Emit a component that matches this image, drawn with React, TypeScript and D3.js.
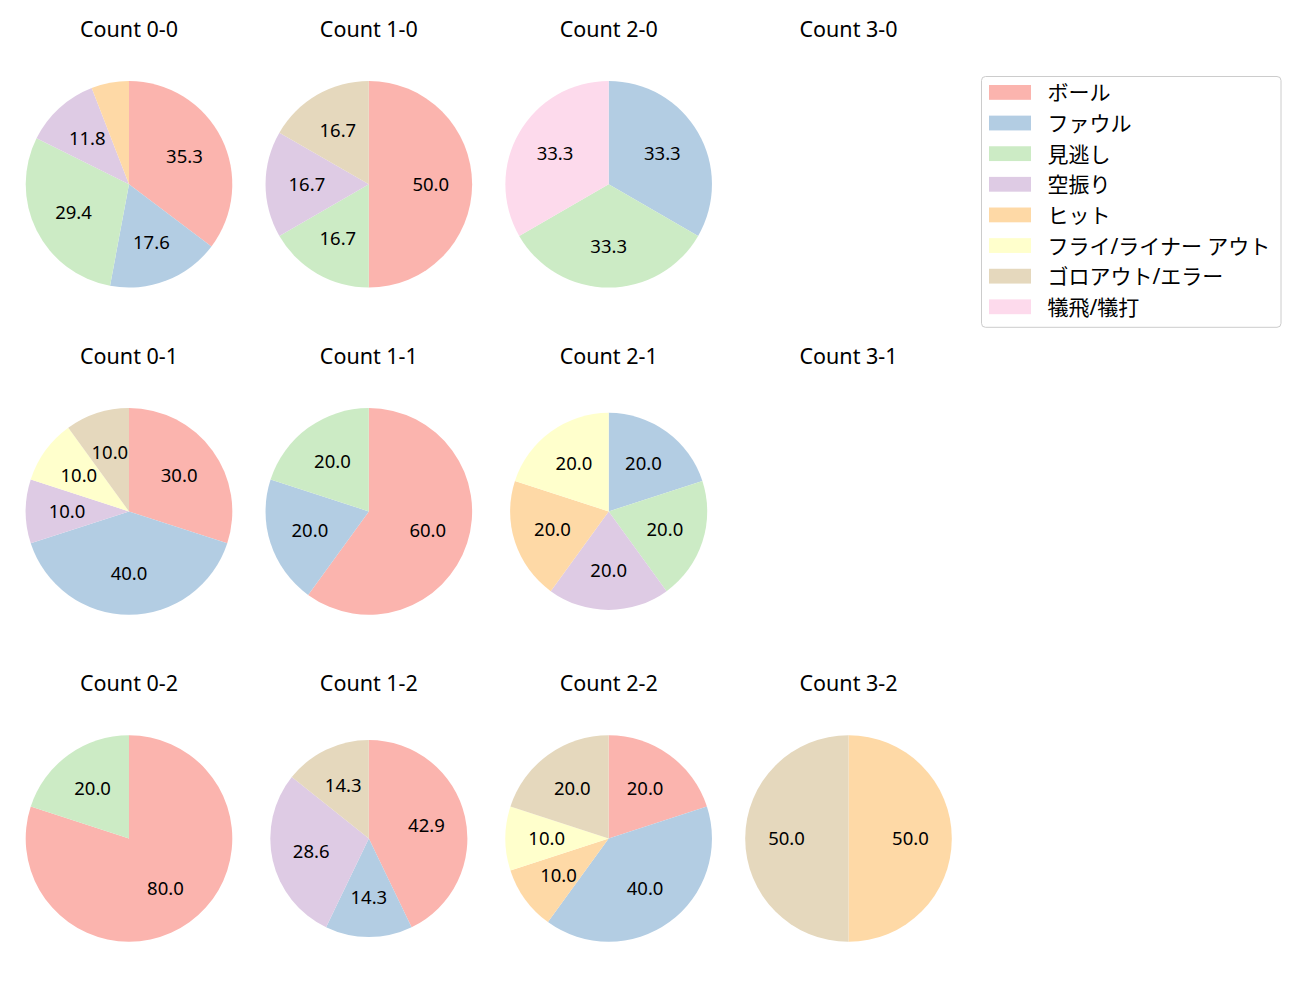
import * as d3 from 'd3';
import React, { useRef, useEffect } from 'react';

const categories = [
  'ボール',
  'ファウル',
  '見逃し',
  '空振り',
  'ヒット',
  'フライ/ライナー アウト',
  'ゴロアウト/エラー',
  '犠飛/犠打',
];

// pitches per result, same order as categories
const count00 = [6, 3, 5, 2, 1, 0, 0, 0];
const count10 = [3, 0, 1, 1, 0, 0, 1, 0];
const count20 = [0, 1, 1, 0, 0, 0, 0, 1];
const count30 = [0, 0, 0, 0, 0, 0, 0, 0];
const count01 = [3, 4, 0, 1, 0, 1, 1, 0];
const count11 = [3, 1, 1, 0, 0, 0, 0, 0];
const count21 = [0, 1, 1, 1, 1, 1, 0, 0];
const count31 = [0, 0, 0, 0, 0, 0, 0, 0];
const count02 = [4, 0, 1, 0, 0, 0, 0, 0];
const count12 = [3, 1, 0, 2, 0, 0, 1, 0];
const count22 = [2, 4, 0, 0, 1, 1, 2, 0];
const count32 = [0, 0, 0, 0, 1, 0, 1, 0];

const countLabels = ['0-0', '1-0', '2-0', '3-0', '0-1', '1-1', '2-1', '3-1', '0-2', '1-2', '2-2', '3-2'];
const countValues = [count00, count10, count20, count30, count01, count11, count21, count31, count02, count12, count22, count32];

// a couple of pies come out slightly smaller in the original
const radiusScale: Record<string, number> = { '2-1': 0.954, '1-2': 0.954 };

const font = '"Noto Sans", "Noto Sans CJK JP", sans-serif';

function PieGrid() {
  const svgRef = useRef<SVGSVGElement>(null);
  const width = 1300;
  const height = 1000;

  useEffect(() => {
    const svg = d3.select(svgRef.current);
    svg.selectAll('*').remove();

    const color = d3.scaleOrdinal<number, string>()
      .domain(d3.range(categories.length))
      .range(d3.schemePastel1);

    const colX = d3.scaleLinear().domain([0, 3]).range([129, 848.5]);
    const rowY = d3.scaleLinear().domain([0, 2]).range([184.3, 838.5]);
    const baseR = 103.3;

    const pie = d3.pie<number>().sort(null).value((d) => d);

    countLabels.forEach((label, i) => {
      const col = i % 4;
      const row = Math.floor(i / 4);
      const cx = colX(col);
      const cy = rowY(row);
      const g = svg.append('g').attr('transform', `translate(${cx},${cy})`);

      svg
        .append('text')
        .attr('x', cx)
        .attr('y', cy - 147.6)
        .attr('text-anchor', 'middle')
        .attr('font-family', font)
        .attr('font-size', 21.5)
        .attr('fill', '#000')
        .text(`Count ${label}`);

      const values = countValues[i];
      const total = d3.sum(values);
      if (total === 0) return;

      const r = baseR * (radiusScale[label] ?? 1);
      const arc = d3.arc<d3.PieArcDatum<number>>().innerRadius(0).outerRadius(r);
      const labelArc = d3.arc<d3.PieArcDatum<number>>().innerRadius(r * 0.6).outerRadius(r * 0.6);
      const arcs = pie(values).filter((d) => d.value > 0);

      g.selectAll('path')
        .data(arcs)
        .join('path')
        .attr('d', arc)
        .attr('fill', (d) => color(d.index));

      g.selectAll('text')
        .data(arcs.filter((d) => (d.value / total) * 100 >= 7))
        .join('text')
        .attr('x', (d) => labelArc.centroid(d)[0])
        .attr('y', (d) => labelArc.centroid(d)[1])
        .attr('dy', '0.36em')
        .attr('text-anchor', 'middle')
        .attr('font-family', font)
        .attr('font-size', 18.5)
        .attr('fill', '#000')
        .text((d) => ((d.value / total) * 100).toFixed(1));
    });

    // legend
    const legend = svg.append('g');
    legend
      .append('rect')
      .attr('x', 981.5)
      .attr('y', 76.5)
      .attr('width', 299.5)
      .attr('height', 250.8)
      .attr('rx', 4)
      .attr('fill', '#fff')
      .attr('fill-opacity', 0.8)
      .attr('stroke', '#cccccc')
      .attr('stroke-width', 1);

    const legendY = d3.scaleLinear().domain([0, categories.length - 1]).range([92.4, 306.8]);
    categories.forEach((cat, i) => {
      legend
        .append('rect')
        .attr('x', 989)
        .attr('y', legendY(i) - 7.4)
        .attr('width', 42)
        .attr('height', 14.8)
        .attr('fill', color(i));
      legend
        .append('text')
        .attr('x', 1047.5)
        .attr('y', legendY(i))
        .attr('dominant-baseline', 'central')
        .attr('font-family', font)
        .attr('font-size', 21)
        .attr('fill', '#000')
        .text(cat);
    });
  }, []);

  return <svg width={width} height={height} ref={svgRef} style={{ display: 'block' }} />;
}

export default function App() {
  return (
    <div style={{ margin: -8 }}>
      <PieGrid />
    </div>
  );
}
